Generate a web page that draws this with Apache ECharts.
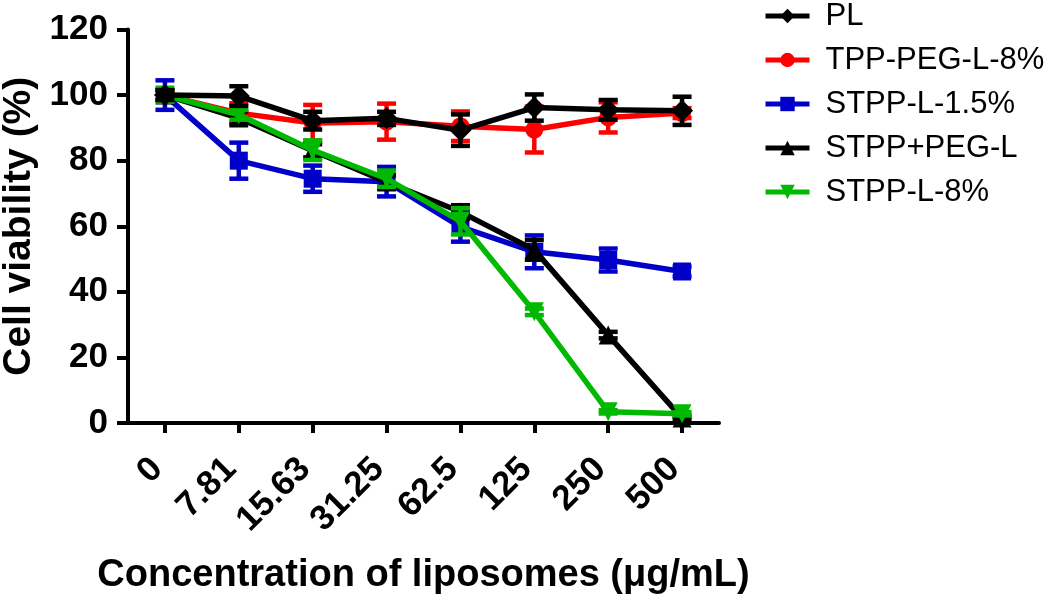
<!DOCTYPE html>
<html>
<head>
<meta charset="utf-8">
<script src="https://cdn.jsdelivr.net/npm/echarts@6/dist/echarts.min.js"></script>
<style>html,body{margin:0;padding:0;background:#fff;}#c{width:1050px;height:596px;}</style>
</head>
<body>
<div id="c"></div>
<script>
var categories = ['0', '7.81', '15.63', '31.25', '62.5', '125', '250', '500'];
var yTicks = [0, 20, 40, 60, 80, 100, 120];

var plVals = [100, 99.7, 92.2, 92.9, 89.3, 96.2, 95.5, 95.2];
var plErr = [1.5, 3, 2.7, 2, 4.8, 4, 3, 4.3];
var tppVals = [100, 94.5, 91.5, 91.9, 90.5, 89.5, 93.2, 94.5];
var tppErr = [1.5, 3, 5.5, 5.5, 4.5, 7, 4.6, 1.5];
var stpp15Vals = [100, 80, 74.5, 73.6, 59.8, 52.2, 49.7, 46.2];
var stpp15Err = [4.5, 5.5, 4, 4.5, 4.5, 5, 3.5, 1.5];
var stppPegVals = [100, 93, 83, 73.5, 64.4, 52.8, 26.8, 1.5];
var stppPegErr = [1.5, 2, 2, 2, 2, 3, 1, 0.5];
var stpp8Vals = [100, 94, 83.2, 74.5, 61.5, 33.9, 3.4, 2.8];
var stpp8Err = [2, 1.5, 3, 2.5, 4, 1, 0.5, 0.5];

var seriesNames = ['PL', 'TPP-PEG-L-8%', 'STPP-L-1.5%', 'STPP+PEG-L', 'STPP-L-8%'];
var colors = ['#000000', '#ff0000', '#0000c8', '#000000', '#00b900'];

var FONT = '"Liberation Sans", Arial, Helvetica, sans-serif';

function errData(vals, errs) {
  return vals.map(function (v, i) { return [i, v, errs[i]]; });
}

function errSeries(name, color, vals, errs, z) {
  return {
    type: 'custom',
    name: name + ' (error)',
    z: z,
    silent: true,
    legendHoverLink: false,
    renderItem: function (params, api) {
      var x = api.value(0), v = api.value(1), e = api.value(2);
      var top = api.coord([x, v + e]);
      var bot = api.coord([x, v - e]);
      var hw = 9.5;
      var st = { stroke: color, lineWidth: 4.5 };
      return {
        type: 'group',
        children: [
          { type: 'line', shape: { x1: top[0], y1: top[1], x2: bot[0], y2: bot[1] }, style: st },
          { type: 'line', shape: { x1: top[0] - hw, y1: top[1], x2: top[0] + hw, y2: top[1] }, style: st },
          { type: 'line', shape: { x1: bot[0] - hw, y1: bot[1], x2: bot[0] + hw, y2: bot[1] }, style: st }
        ]
      };
    },
    encode: { x: 0, y: 1 },
    data: errData(vals, errs)
  };
}

function lineSeries(name, color, vals, symbol, size, rotate, z) {
  return {
    type: 'line',
    name: name,
    z: z,
    data: vals,
    symbol: symbol,
    symbolSize: size,
    symbolRotate: rotate || 0,
    showAllSymbol: true,
    lineStyle: { color: color, width: 5.5 },
    itemStyle: { color: color, borderWidth: 0 },
    emphasis: { disabled: true },
    animation: false
  };
}

var chart = echarts.init(document.getElementById('c'), null, { renderer: 'canvas' });

var option = {
  animation: false,
  backgroundColor: '#ffffff',
  grid: { left: 128, right: 331, top: 29.5, bottom: 173, containLabel: false, outerBoundsMode: 'none' },
  legend: {
    orient: 'vertical',
    left: 758,
    top: -5,
    itemWidth: 44,
    itemHeight: 18,
    itemGap: 12,
    selectedMode: false,
    lineStyle: { width: 5 },
    data: seriesNames.map(function (n) { return { name: n }; }),
    textStyle: { fontFamily: FONT, fontSize: 31, color: '#000', lineHeight: 32, padding: [0, 0, 0, 11] }
  },
  xAxis: {
    type: 'category',
    data: categories,
    boundaryGap: true,
    name: 'Concentration of liposomes (\u03bcg/mL)',
    nameLocation: 'middle',
    nameGap: 134,
    nameTextStyle: { fontFamily: FONT, fontSize: 38, fontWeight: 'bold', color: '#000' },
    axisLine: { show: true, lineStyle: { color: '#000', width: 4 } },
    axisTick: { show: true, alignWithLabel: true, length: 10, lineStyle: { color: '#000', width: 4 } },
    axisLabel: { rotate: 45, margin: 33, padding: [0, 11, 0, 0], fontFamily: FONT, fontSize: 35, fontWeight: 'bold', color: '#000', interval: 0 },
    splitLine: { show: false }
  },
  yAxis: {
    type: 'value',
    min: yTicks[0],
    max: yTicks[yTicks.length - 1],
    interval: 20,
    name: 'Cell viability (%)',
    nameLocation: 'middle',
    nameGap: 78,
    nameRotate: 90,
    nameTextStyle: { fontFamily: FONT, fontSize: 39, fontWeight: 'bold', color: '#000' },
    axisLine: { show: true, lineStyle: { color: '#000', width: 4 } },
    axisTick: { show: true, length: 11, lineStyle: { color: '#000', width: 4 } },
    axisLabel: { margin: 20, fontFamily: FONT, fontSize: 35, fontWeight: 'bold', color: '#000' },
    splitLine: { show: false }
  },
  series: [
    errSeries('TPP-PEG-L-8%', colors[1], tppVals, tppErr, 2),
    lineSeries('TPP-PEG-L-8%', colors[1], tppVals, 'circle', 18, 0, 3),
    errSeries('STPP-L-1.5%', colors[2], stpp15Vals, stpp15Err, 4),
    lineSeries('STPP-L-1.5%', colors[2], stpp15Vals, 'rect', 18, 0, 5),
    errSeries('STPP+PEG-L', colors[3], stppPegVals, stppPegErr, 6),
    lineSeries('STPP+PEG-L', colors[3], stppPegVals, 'triangle', 19, 0, 7),
    errSeries('STPP-L-8%', colors[4], stpp8Vals, stpp8Err, 8),
    lineSeries('STPP-L-8%', colors[4], stpp8Vals, 'triangle', 19, 180, 9),
    errSeries('PL', colors[0], plVals, plErr, 10),
    lineSeries('PL', colors[0], plVals, 'diamond', 22, 0, 11)
  ]
};
chart.setOption(option);
</script>
</body>
</html>
